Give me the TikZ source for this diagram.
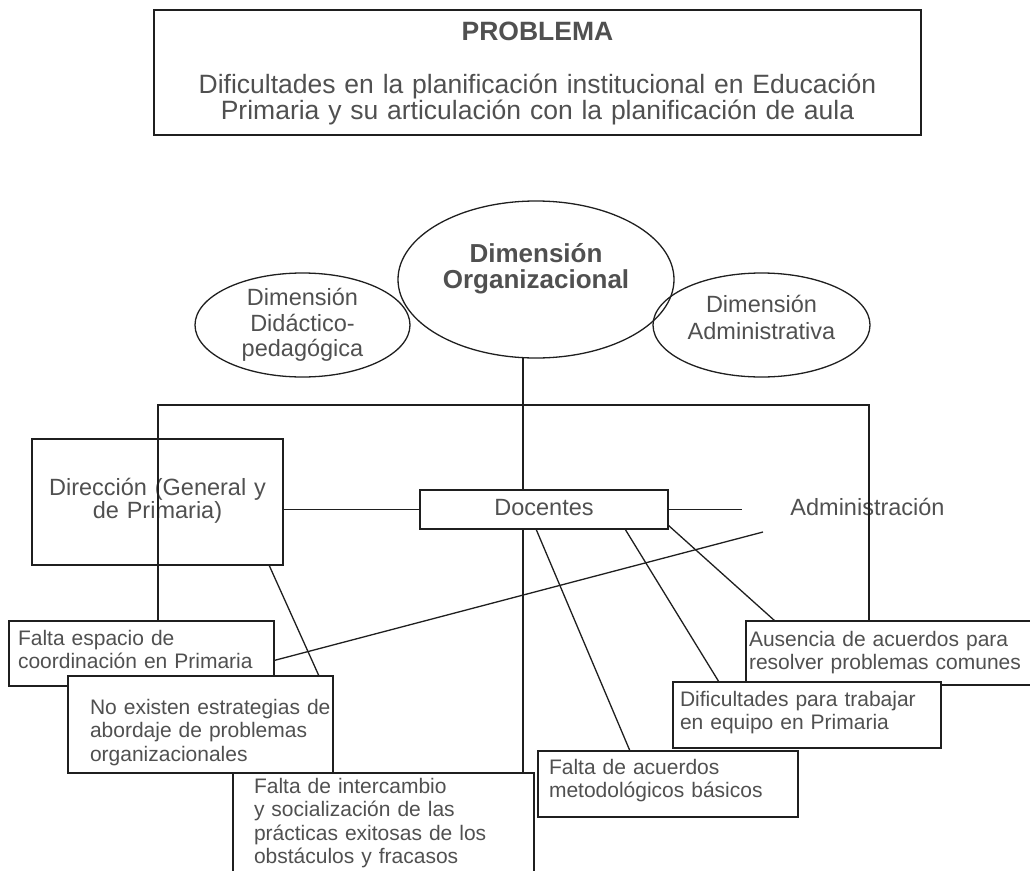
\documentclass[tikz,border=0pt]{standalone}
\usepackage{fontspec}
\setmainfont{Liberation Sans}
\usetikzlibrary{shapes.geometric}
\definecolor{ink}{HTML}{505050}
\definecolor{rulecol}{HTML}{1F1F1F}
% let a long line run slightly past the text width instead of breaking
\newcommand\looseline{\rightskip=-40pt plus 1fil\relax}

\begin{document}
\begin{tikzpicture}[x=1pt,y=-1pt,
  tbox/.style={draw=rulecol, line width=1.3pt, inner sep=0pt, outer sep=0pt,
               anchor=north west, text=ink},
  note/.style={tbox, fill=white, align=left, font=\fontsize{21}{23.5}\selectfont},
  dimen/.style={draw=rulecol, line width=1.3pt, ellipse, inner sep=0pt, outer sep=0pt},
  dimtext/.style={text=ink, align=center, inner sep=0pt},
  wire/.style={draw=rulecol, line width=1.3pt}
]
\useasboundingbox (0,0) rectangle (1030,870);
\clip (0,0) rectangle (1030,870);

% problem statement
\node[tbox, text width=767pt, text height=30pt, text depth=95pt, align=center,
      font=\fontsize{26.5}{26.5}\selectfont] (prob) at (154,10)
  {\textbf{PROBLEMA}\\[26.5pt]Dificultades en la planificación institucional en Educación\\Primaria y su articulación con la planificación de aula};

% dimensions
\node[dimen, minimum width=276pt, minimum height=157pt,
      label={[dimtext, font=\bfseries\fontsize{26}{26}\selectfont, yshift=11pt]center:{Dimensión\\Organizacional}}]
      (org) at (536,279.5) {};
\node[dimen, minimum width=215pt, minimum height=104pt,
      label={[dimtext, font=\fontsize{23.5}{25.3}\selectfont]center:{Dimensión\\Didáctico-\\pedagógica}}]
      (did) at (302.5,325) {};
\node[dimen, minimum width=217pt, minimum height=104pt,
      label={[dimtext, font=\fontsize{23.5}{27}\selectfont, yshift=7.3pt]center:{Dimensión\\Administrativa}}]
      (adm) at (761.5,325) {};

% actors
\node[tbox, align=center, font=\fontsize{23.5}{23}\selectfont, text width=251pt,
      text height=56pt, text depth=70pt] (dir) at (32,439) {Dirección (General y\\de Primaria)};
\node[tbox, fill=white, align=center, font=\fontsize{23.5}{23.5}\selectfont, text width=248pt,
      text height=25pt, text depth=14pt] (doc) at (420,490) {Docentes};
\node[text=ink, font=\fontsize{23.5}{23.5}\selectfont, anchor=base, inner sep=0pt]
      (admin) at (867.5,515) {Administración};

% problems found (box width = text width + 2 * inner xsep)
\node[note, inner xsep=9pt, text width=247pt, text height=24pt, text depth=41pt] (fe) at (9,621)
  {\looseline Falta espacio de\\coordinación en Primaria};
\node[note, inner xsep=22pt, text width=221pt, text height=38pt, text depth=59pt] (ne) at (68,676)
  {\looseline No existen estrategias de\\abordaje de problemas\\organizacionales};
\node[note, inner xsep=3pt, text width=288pt, text height=25pt, text depth=39pt] (aus) at (746,621)
  {\looseline Ausencia de acuerdos para\\resolver problemas comunes};
\node[note, inner xsep=7pt, text width=254pt, text height=24pt, text depth=42pt] (dif) at (673,682)
  {\looseline Dificultades para trabajar\\en equipo en Primaria};
\node[note, inner xsep=11pt, text width=238pt, text height=23pt, text depth=43pt] (fa) at (538,751)
  {\looseline Falta de acuerdos\\metodológicos básicos};
\node[note, inner xsep=21pt, text width=259pt, text height=20pt, text depth=100pt] (inter) at (233,773)
  {\looseline Falta de intercambio\\y socialización de las\\prácticas exitosas de los\\obstáculos y fracasos};

% junction points and free ends
\coordinate (bus) at (523,405);
\coordinate (busL) at (158,405);
\coordinate (busR) at (869,405);
\coordinate (admL) at (742,509.5);
\coordinate (slant) at (763,532);

% connectors
\draw[wire] (bus |- org.south) -- (bus);
\draw[wire] (fe.north -| busL) -- (busL) -- (busR) -- (aus.north -| busR);
\draw[wire] (bus) -- (doc.north -| bus);
\draw[wire] (doc.south -| bus) -- (inter.north -| bus);
\draw[wire] (dir.east |- doc.west) -- (doc.west);
\draw[wire] (doc.east) -- (admL);
\draw[wire] ([yshift=-7pt]fe.east) -- (slant);
\draw[wire] ([xshift=111.5pt]dir.south) -- ([xshift=118.5pt]ne.north);
\draw[wire] ([xshift=-8pt]doc.south) -- ([xshift=-38pt]fa.north);
\draw[wire] ([xshift=81pt]doc.south) -- ([xshift=-88pt]dif.north);
\draw[wire] ([yshift=4pt]doc.south east) -- ([xshift=-118pt]aus.north);
\end{tikzpicture}
\end{document}
